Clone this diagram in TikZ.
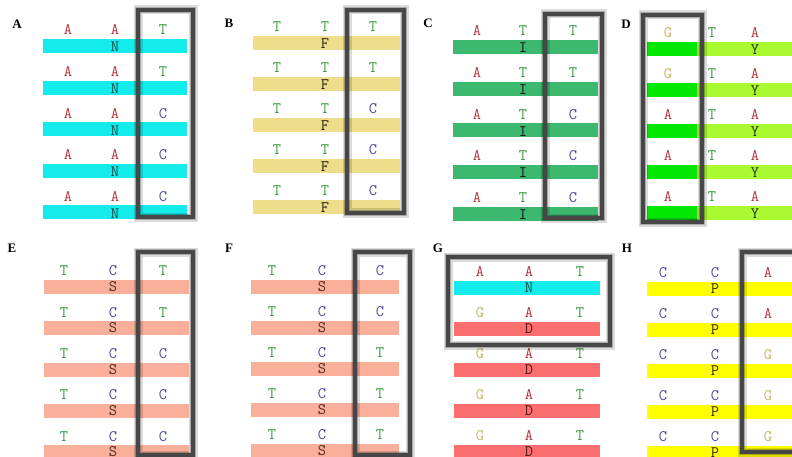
\documentclass[tikz,border=0pt]{standalone}
\usepackage{fontspec}
\setmainfont{Liberation Serif}
\definecolor{colA}{RGB}{180,50,60}
\definecolor{colT}{RGB}{50,150,60}
\definecolor{colC}{RGB}{70,70,150}
\definecolor{colG}{RGB}{195,180,100}
\definecolor{midN}{RGB}{20,70,70}
\definecolor{midF}{RGB}{40,30,10}
\definecolor{midI}{RGB}{20,20,20}
\definecolor{midY}{RGB}{40,50,10}
\definecolor{midS}{RGB}{80,40,30}
\definecolor{midD}{RGB}{90,20,20}
\definecolor{midP}{RGB}{50,40,0}
\definecolor{bCyan}{RGB}{20,235,235}
\definecolor{bKhaki}{RGB}{238,222,140}
\definecolor{bGreen}{RGB}{60,185,110}
\definecolor{bLime}{RGB}{0,230,0}
\definecolor{bYG}{RGB}{170,250,50}
\definecolor{bSalmon}{RGB}{250,175,155}
\definecolor{bRed}{RGB}{250,110,110}
\definecolor{bYellow}{RGB}{255,255,0}
\tikzset{
  base/.style={font=\ttfamily\fontsize{16}{16}\selectfont, inner sep=0pt, anchor=base},
  lbl/.style={font=\bfseries\fontsize{13}{13}\selectfont, inner sep=0pt},
  frame/.style={draw=black!72, line width=3.5pt,
    preaction={draw=black, line width=9pt, opacity=0.14},
    preaction={draw=black, line width=6pt, opacity=0.22}}
}
\def\midx{0}
\def\midoff{8}
\newcommand\rowset[9]{%
  \foreach \p/\q/\r/\m/\bc [count=\i from 0] in {#9} {
    \pgfmathsetmacro\yb{#7+#8*\i}
    \fill[fill=\bc] (#2,\yb) rectangle (#3,\yb+14);
    \node[base,text=col\p] (#1-\i-1) at (#4,\yb-4.1) {\p};
    \node[base,text=col\q] (#1-\i-2) at (#5,\yb-4.1) {\q};
    \node[base,text=col\r] (#1-\i-3) at (#6,\yb-4.1) {\r};
    \node[base,text=mid\m] (#1-\i-m) at (\midx,\yb+\midoff+4.9) {\m};
  }}
\begin{document}
\begin{tikzpicture}[x=1pt,y=-1pt]
\useasboundingbox (0,0) rectangle (792,457);
\clip (0,0) rectangle (792,457);
\fill[white] (0,0) rectangle (792,457);
% A
\def\midx{115}
\rowset{A}{43}{187}{68}{115}{163}{39}{41.6}{A/A/T/N/bCyan, A/A/T/N/bCyan, A/A/C/N/bCyan, A/A/C/N/bCyan, A/A/C/N/bCyan}
\node[lbl] (labA) at (17,24) {A};
\draw[frame] (138,10) rectangle (193,217);
% B
\def\midx{325}
\rowset{B}{253}{400}{277}{325}{373}{36}{40.9}{T/T/T/F/bKhaki, T/T/T/F/bKhaki, T/T/C/F/bKhaki, T/T/C/F/bKhaki, T/T/C/F/bKhaki}
\node[lbl] (labB) at (229,23) {B};
\draw[frame] (347,10) rectangle (404,213);
% C
\def\midx{523}
\rowset{C}{453}{598}{477}{523}{573}{40}{41.7}{A/T/T/I/bGreen, A/T/T/I/bGreen, A/T/C/I/bGreen, A/T/C/I/bGreen, A/T/C/I/bGreen}
\node[lbl] (labC) at (428,23) {C};
\draw[frame] (545,14) rectangle (602,218);
% D
\def\midx{755}
\rowset{D}{647}{792}{668}{712}{755}{42}{41}{G/T/A/Y/bYG, G/T/A/Y/bYG, A/T/A/Y/bYG, A/T/A/Y/bYG, A/T/A/Y/bYG}
\foreach \i in {0,...,4}{\fill[bLime] (647,42+41*\i) rectangle (697,56+41*\i);}
\node[lbl] (labD) at (626,24) {D};
\draw[frame] (643,15) rectangle (702,222);
% bottom row
\def\midoff{6.5}
% E
\def\midx{113}
\rowset{E}{44}{189}{64}{113}{163}{280}{41.3}{T/C/T/S/bSalmon, T/C/T/S/bSalmon, T/C/C/S/bSalmon, T/C/C/S/bSalmon, T/C/C/S/bSalmon}
\node[lbl] (labE) at (12,248) {E};
\draw[frame] (138,252) rectangle (193,455);
% F
\def\midx{322}
\rowset{F}{251}{399}{272}{322}{380}{280}{41}{T/C/C/S/bSalmon, T/C/C/S/bSalmon, T/C/T/S/bSalmon, T/C/T/S/bSalmon, T/C/T/S/bSalmon}
\node[lbl] (labF) at (229,248) {F};
\draw[frame] (355,252) rectangle (410,455);
% G
\def\midx{529}
\rowset{G}{454}{600}{480}{529}{580}{281}{41}{A/A/T/N/bCyan, G/A/T/D/bRed, G/A/T/D/bRed, G/A/T/D/bRed, G/A/T/D/bRed}
\node[lbl] (labG) at (438,248) {G};
\draw[frame] (448,257) rectangle (610,345);
% H
\def\midx{715}
\rowset{H}{647}{792}{663}{715}{768}{282}{41}{C/C/A/P/bYellow, C/C/A/P/bYellow, C/C/G/P/bYellow, C/C/G/P/bYellow, C/C/G/P/bYellow}
\node[lbl] (labH) at (627,248) {H};
\draw[frame] (742,252) rectangle (812,452);
\end{tikzpicture}
\end{document}
